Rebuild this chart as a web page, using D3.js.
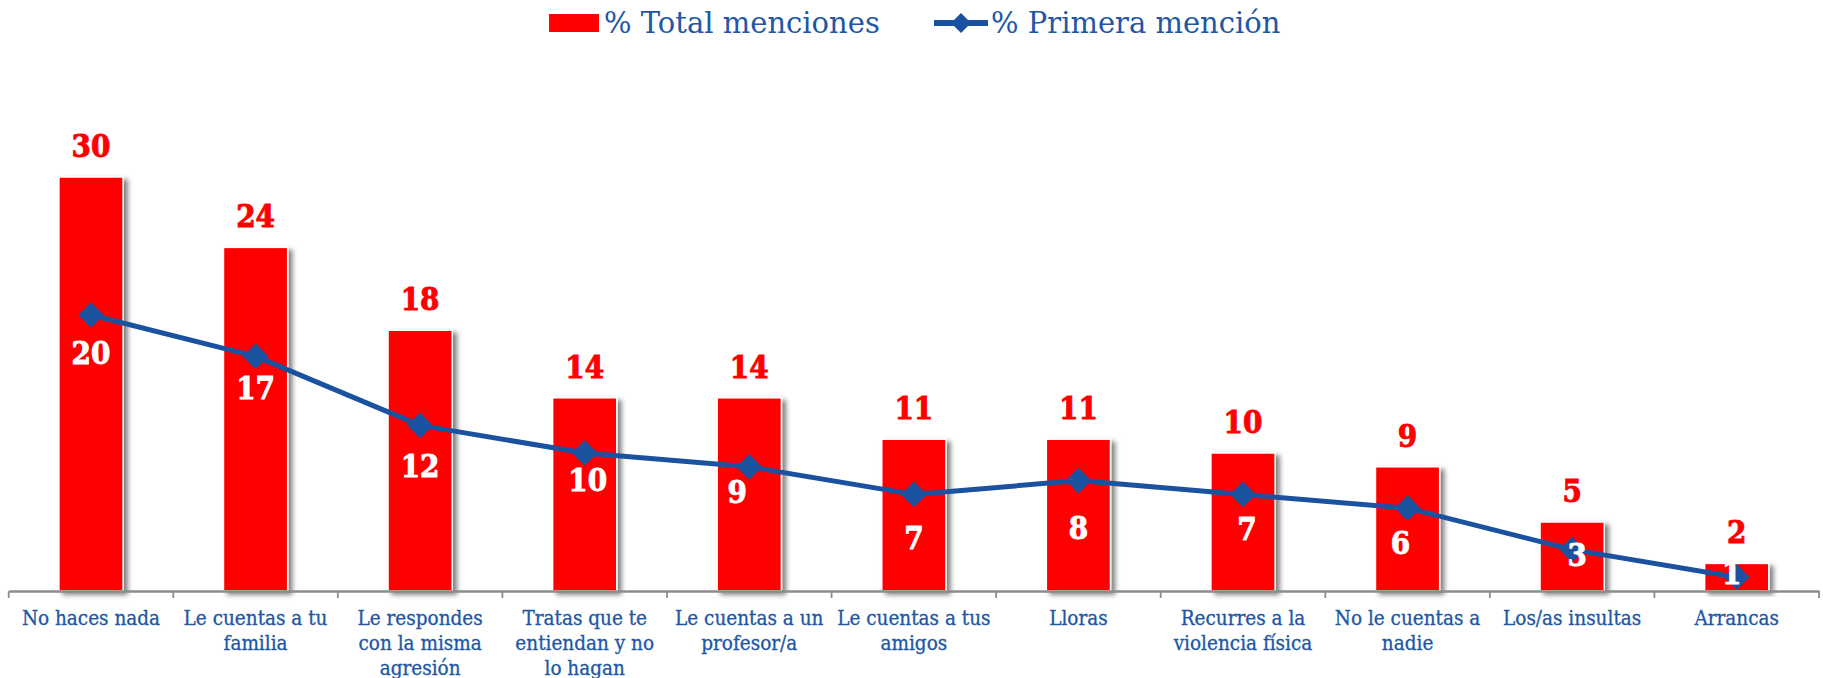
<!DOCTYPE html>
<html>
<head>
<meta charset="utf-8">
<script src="https://cdn.jsdelivr.net/npm/d3@7"></script>
<style>
  html, body { margin: 0; padding: 0; background: #fff; }
  svg { display: block; }
</style>
</head>
<body>
<svg id="chart" width="1823" height="678"></svg>
<script>
// ---------- data ----------
const categories = [
  "No haces nada",
  "Le cuentas a tu\nfamilia",
  "Le respondes\ncon la misma\nagresión",
  "Tratas que te\nentiendan y no\nlo hagan",
  "Le cuentas a un\nprofesor/a",
  "Le cuentas a tus\namigos",
  "Lloras",
  "Recurres a la\nviolencia física",
  "No le cuentas a\nnadie",
  "Los/as insultas",
  "Arrancas"
];
const totalMenciones = [30, 24.9, 18.9, 14, 14, 11, 11, 10, 9, 5, 2];
const primeraMencion = [20, 17, 12, 10, 9, 7, 8, 7, 6, 3, 1];
const seriesNames = ["% Total menciones", "% Primera mención"];
// label nudges (layout) for the line labels
const lineLabelDx = [0, 0, 0, 3, -12, 0, 0, 4, -7, 5, -5];
const lineLabelDy = [38, 32, 41, 27, 25, 44, 47, 35, 35, 5, -4];

// ---------- styles ----------
const RED = "#FF0000";
const BLUE = "#1A52A0";
const TEXTBLUE = "#2157A5";
const AXIS = "#8C8C8C";
const serifC = "'DejaVu Serif Condensed', 'DejaVu Serif', serif";
const serif = "'DejaVu Serif', serif";

const svg = d3.select("#chart");
const defs = svg.append("defs");
const f = defs.append("filter").attr("id", "shadow")
  .attr("x", "-20%").attr("y", "-10%").attr("width", "160%").attr("height", "130%");
f.append("feDropShadow").attr("dx", 4).attr("dy", 3).attr("stdDeviation", 2.4)
  .attr("flood-color", "#000").attr("flood-opacity", 0.5);

const x = d3.scaleBand().domain(d3.range(categories.length)).range([8.7, 1819]).padding(0);
const y = d3.scaleLinear().domain([0, 30]).range([591, 177]);
const barW = x.bandwidth() * 0.39;
const cx = i => x(i) + x.bandwidth() / 2;

// ---------- bars ----------
svg.append("g").selectAll("rect").data(totalMenciones).join("rect")
  .attr("x", (d, i) => cx(i) - barW / 2)
  .attr("y", d => y(d))
  .attr("width", barW)
  .attr("height", d => y(0) - y(d))
  .attr("fill", RED)
  .attr("stroke", "#fff")
  .attr("stroke-width", 1.5)
  .attr("filter", "url(#shadow)");

// ---------- axis ----------
const axisG = svg.append("g").attr("transform", `translate(0,${y(0)})`)
  .call(d3.axisBottom(x).tickSize(0).tickFormat(""));
axisG.select(".domain").attr("stroke", AXIS).attr("stroke-width", 2.5);
const edges = d3.range(categories.length).map(i => x(i)).concat([x.range()[1]]);
axisG.selectAll("line.edge").data(edges).join("line").attr("class", "edge")
  .attr("x1", d => d).attr("x2", d => d).attr("y1", 0).attr("y2", 7)
  .attr("stroke", AXIS).attr("stroke-width", 1.8);

// category labels
const catG = svg.append("g");
categories.forEach((c, i) => {
  const t = catG.append("text")
    .attr("x", cx(i)).attr("y", 625)
    .attr("text-anchor", "middle")
    .attr("font-family", serifC).attr("font-size", 20.5)
    .attr("fill", TEXTBLUE).attr("stroke", TEXTBLUE).attr("stroke-width", 0.3);
  c.split("\n").forEach((line, k) => {
    t.append("tspan").attr("x", cx(i)).attr("dy", k === 0 ? 0 : 25).text(line);
  });
});

// bar value labels
svg.append("g").selectAll("text").data(totalMenciones).join("text")
  .attr("x", (d, i) => cx(i))
  .attr("y", d => y(d) - 20)
  .attr("text-anchor", "middle")
  .attr("font-family", serifC).attr("font-weight", "bold").attr("font-size", 31)
  .attr("fill", RED).attr("stroke", RED).attr("stroke-width", 0.9)
  .text(d => Math.floor(d));

// ---------- line ----------
const line = d3.line().x((d, i) => cx(i)).y(d => y(d));
svg.append("path").datum(primeraMencion)
  .attr("d", line).attr("fill", "none")
  .attr("stroke", BLUE).attr("stroke-width", 5).attr("stroke-linejoin", "round");

const diamond = d3.symbol().type(d3.symbolSquare).size(330);
svg.append("g").selectAll("path").data(primeraMencion).join("path")
  .attr("d", diamond)
  .attr("transform", (d, i) => `translate(${cx(i)},${y(d)}) rotate(45)`)
  .attr("fill", BLUE);

svg.append("g").selectAll("text").data(primeraMencion).join("text")
  .attr("x", (d, i) => cx(i) + lineLabelDx[i])
  .attr("y", (d, i) => y(d) + lineLabelDy[i] + 11)
  .attr("text-anchor", "middle")
  .attr("font-family", serifC).attr("font-weight", "bold").attr("font-size", 31)
  .attr("fill", "#fff").attr("stroke", "#fff").attr("stroke-width", 0.9)
  .text(d => d);

// ---------- legend ----------
const lg = svg.append("g");
lg.append("rect").attr("x", 549).attr("y", 14).attr("width", 50).attr("height", 18).attr("fill", RED);
lg.append("text").attr("x", 604).attr("y", 33)
  .attr("font-family", serif).attr("font-size", 29).attr("fill", TEXTBLUE)
  .text(seriesNames[0]);
lg.append("line").attr("x1", 934).attr("x2", 988).attr("y1", 23).attr("y2", 23)
  .attr("stroke", BLUE).attr("stroke-width", 6);
lg.append("path").attr("d", d3.symbol().type(d3.symbolSquare).size(200)())
  .attr("transform", "translate(961,23) rotate(45)").attr("fill", BLUE);
lg.append("text").attr("x", 991).attr("y", 33)
  .attr("font-family", serif).attr("font-size", 29).attr("fill", TEXTBLUE)
  .text(seriesNames[1]);
</script>
</body>
</html>
